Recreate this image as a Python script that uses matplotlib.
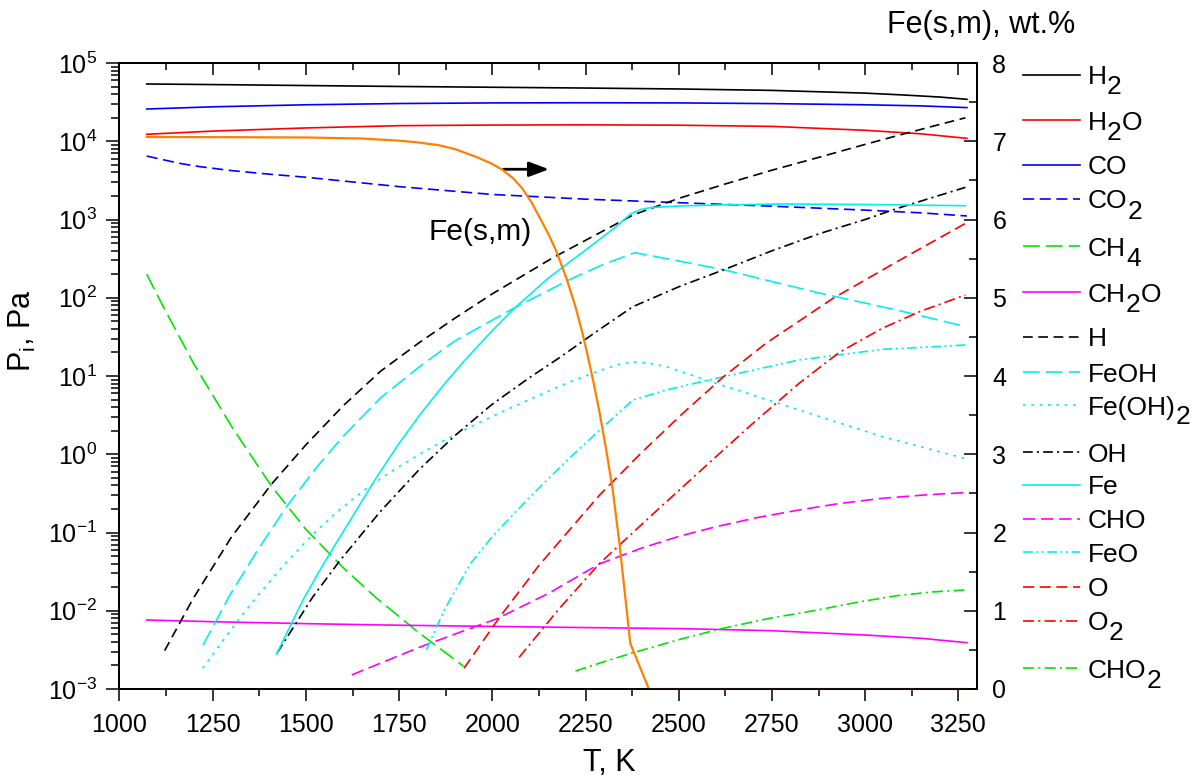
import re

import matplotlib
matplotlib.use("Agg")
import matplotlib.pyplot as plt
import numpy as np
from matplotlib.lines import Line2D
from matplotlib.ticker import LogLocator, MultipleLocator, NullFormatter

plt.rcParams.update({
    "font.family": ["Liberation Sans", "DejaVu Sans"],
    "mathtext.fontset": "custom",
    "mathtext.rm": "Liberation Sans",
    "mathtext.it": "Liberation Sans:italic",
    "mathtext.bf": "Liberation Sans:bold",
    "axes.unicode_minus": False,
    "lines.scale_dashes": False,
    "axes.linewidth": 1.3,
})

# --- partial pressures, log10(P / Pa) versus T (K) ---
T_H2 = [1073, 1300, 1500, 1750, 2000, 2250, 2500, 2750, 3000, 3100, 3200, 3273]
LG_H2 = [4.732, 4.722, 4.712, 4.700, 4.690, 4.680, 4.668, 4.650, 4.615, 4.592, 4.565, 4.536]

T_MAIN = [1073, 1250, 1500, 1750, 2000, 2250, 2500, 2750, 3000, 3150, 3273]
LG_H2O = [4.089, 4.130, 4.170, 4.199, 4.207, 4.210, 4.205, 4.190, 4.140, 4.095, 4.037]
LG_CO = [4.412, 4.440, 4.466, 4.482, 4.490, 4.492, 4.490, 4.481, 4.466, 4.452, 4.430]
LG_CH2O = [-2.118, -2.140, -2.165, -2.185, -2.200, -2.215, -2.228, -2.255, -2.310, -2.352, -2.408]

T_CO2 = [1073, 1130, 1170, 1216, 1300, 1400, 1500, 1750, 2000, 2250, 2500, 2750, 3000, 3150, 3273]
LG_CO2 = [3.811, 3.750, 3.710, 3.675, 3.625, 3.580, 3.540, 3.420, 3.320, 3.260, 3.215, 3.170,
          3.120, 3.085, 3.045]

T_CH4 = [1073, 1117, 1200, 1300, 1408, 1500, 1600, 1685, 1800, 1923]
LG_CH4 = [2.30, 1.89, 1.15, 0.36, -0.41, -0.96, -1.45, -1.82, -2.27, -2.71]

T_H = [1121, 1198, 1300, 1408, 1500, 1600, 1700, 1805, 1900, 2000, 2162, 2280, 2377, 2500,
       2622, 2750, 2880, 3000, 3085, 3180, 3269]
LG_H = [-2.51, -1.84, -1.06, -0.38, 0.12, 0.62, 1.06, 1.43, 1.74, 2.05, 2.51, 2.81, 3.057, 3.27,
        3.45, 3.63, 3.80, 3.96, 4.07, 4.19, 4.30]

T_FEOH = [1224, 1296, 1370, 1448, 1530, 1600, 1700, 1805, 1900, 2059, 2213, 2300, 2382, 2500,
          2623, 2880, 3085, 3259]
LG_FEOH = [-2.44, -1.80, -1.23, -0.67, -0.16, 0.23, 0.72, 1.12, 1.45, 1.87, 2.245, 2.43, 2.576,
           2.47, 2.355, 2.057, 1.843, 1.643]

T_FEOH2 = [1223, 1290, 1358, 1440, 1519, 1590, 1662, 1735, 1805, 1880, 1950, 2025, 2100, 2200,
           2288, 2340, 2377, 2420, 2466, 2600, 2823, 3046, 3266]
LG_FEOH2 = [-2.735, -2.30, -1.88, -1.42, -1.02, -0.71, -0.44, -0.20, 0.00, 0.20, 0.37, 0.54,
            0.70, 0.91, 1.07, 1.15, 1.18, 1.165, 1.12, 0.907, 0.565, 0.225, -0.052]

T_OH = [1423, 1519, 1591, 1700, 1805, 1900, 2000, 2100, 2182, 2280, 2377, 2500, 2622, 2750,
        2880, 3000, 3085, 3180, 3269]
LG_OH = [-2.536, -1.82, -1.36, -0.73, -0.19, 0.24, 0.64, 0.98, 1.24, 1.57, 1.886, 2.14, 2.36,
         2.60, 2.823, 3.00, 3.14, 3.28, 3.411]

T_FE = [1421, 1492, 1550, 1600, 1685, 1750, 1805, 1870, 1926, 2000, 2059, 2150, 2264, 2330,
        2372, 2400, 2423, 2500, 2600, 2777, 3000, 3269]
LG_FE = [-2.557, -1.863, -1.38, -0.99, -0.329, 0.14, 0.50, 0.89, 1.20, 1.58, 1.865, 2.25, 2.66,
         2.90, 3.075, 3.13, 3.151, 3.172, 3.185, 3.198, 3.192, 3.176]

T_CHO = [1623, 1700, 1808, 1910, 2013, 2150, 2288, 2400, 2500, 2600, 2710, 2823, 2930, 3046, 3160, 3270]
LG_CHO = [-2.82, -2.67, -2.46, -2.28, -2.10, -1.78, -1.40, -1.20, -1.05, -0.926, -0.81, -0.712,
          -0.63, -0.563, -0.52, -0.49]

T_FEO = [1823, 1870, 1941, 2000, 2100, 2200, 2288, 2377, 2466, 2600, 2823, 3046, 3270]
LG_FEO = [-2.502, -2.00, -1.40, -1.05, -0.55, -0.08, 0.31, 0.693, 0.82, 0.97, 1.205, 1.34, 1.396]

T_O = [1924, 2020, 2126, 2288, 2400, 2511, 2620, 2734, 2913, 3100, 3269]
LG_O = [-2.735, -2.08, -1.415, -0.52, 0.02, 0.523, 0.99, 1.418, 1.99, 2.50, 2.95]

T_O2 = [2072, 2180, 2288, 2450, 2600, 2700, 2823, 2930, 3046, 3150, 3269]
LG_O2 = [-2.595, -1.97, -1.394, -0.68, -0.031, 0.40, 0.907, 1.30, 1.61, 1.83, 2.035]

T_CHO2 = [2223, 2300, 2378, 2500, 2607, 2740, 2873, 2980, 3086, 3180, 3266]
LG_CHO2 = [-2.77, -2.65, -2.536, -2.37, -2.237, -2.10, -1.99, -1.89, -1.807, -1.76, -1.735]

# --- condensed iron, wt.% (right axis) ---
T_FESM = [1073, 1300, 1500, 1650, 1751, 1800, 1854, 1900, 1957, 2000, 2028, 2055, 2080, 2105,
          2131, 2152, 2172, 2198, 2223, 2240, 2254, 2270, 2287, 2305, 2323, 2341, 2370, 2420, 3273]
WT_FESM = [7.054, 7.052, 7.048, 7.035, 7.007, 6.985, 6.952, 6.90, 6.80, 6.71, 6.632, 6.53, 6.40,
           6.22, 5.99, 5.80, 5.59, 5.26, 4.885, 4.58, 4.30, 3.95, 3.55, 3.07, 2.54, 1.86, 0.584,
           0.0, 0.0]

X_TICKS = list(range(1000, 3251, 250))

BLACK, RED, BLUE = "#000000", "#FF0000", "#0000FF"
GREEN, MAGENTA, CYAN, ORANGE = "#00E600", "#FF00FF", "#00F0F0", "#FF8000"

SOLID = "-"
DASH = (0, (8, 4))
LONG_DASH = (0, (12, 4.5))
DOT = (0, (2, 4))
DASH_DOT = (0, (7, 3, 1.5, 3))
DASH_DOT_DOT = (0, (7, 2.5, 1.5, 2.5, 1.5, 2.5))

# legend label, x, log10 y, colour, line style, legend row (px from top)
SERIES = [
    ("H_2", T_H2, LG_H2, BLACK, SOLID, 75),
    ("H_2O", T_MAIN, LG_H2O, RED, SOLID, 120),
    ("CO", T_MAIN, LG_CO, BLUE, SOLID, 165),
    ("CO_2", T_CO2, LG_CO2, BLUE, DASH, 199),
    ("CH_4", T_CH4, LG_CH4, GREEN, LONG_DASH, 246),
    ("CH_2O", T_MAIN, LG_CH2O, MAGENTA, SOLID, 292),
    ("H", T_H, LG_H, BLACK, (0, (7, 4)), 337),
    ("FeOH", T_FEOH, LG_FEOH, CYAN, LONG_DASH, 372),
    ("Fe(OH)_2", T_FEOH2, LG_FEOH2, CYAN, DOT, 405),
    ("OH", T_OH, LG_OH, BLACK, DASH_DOT, 452),
    ("Fe", T_FE, LG_FE, CYAN, SOLID, 485),
    ("CHO", T_CHO, LG_CHO, MAGENTA, (0, (9, 4)), 519),
    ("FeO", T_FEO, LG_FEO, CYAN, DASH_DOT_DOT, 552),
    ("O", T_O, LG_O, RED, DASH, 587),
    ("O_2", T_O2, LG_O2, RED, (0, (8, 3, 1.5, 3)), 621),
    ("CHO_2", T_CHO2, LG_CHO2, GREEN, (0, (8, 3, 1.5, 3)), 668),
]

W, H = 1203, 778
FS = 18
FS_LEG = 19
FS_TITLE = 22
LW = 1.2
SUB_DROP = 10


def fx(px):
    return px / W


def fy(py):
    return 1 - py / H


fig = plt.figure(figsize=(W / 100, H / 100), dpi=100)
ax = fig.add_axes([fx(119.5), fy(689), fx(977) - fx(119.5), fy(63) - fy(689)])
ax2 = ax.twinx()

for label, tt, lg, color, ls, _ in SERIES:
    ax.plot(tt, 10 ** np.asarray(lg), color=color, ls=ls, lw=LW)

ax2.plot(T_FESM, WT_FESM, color=ORANGE, lw=1.6)

# left axis: log pressure, outward ticks
ax.set_yscale("log")
ax.set_ylim(1e-3, 1e5)
ax.yaxis.set_major_locator(LogLocator(base=10, numticks=20))
ax.yaxis.set_minor_locator(LogLocator(base=10, subs=np.arange(2, 10), numticks=20))
ax.yaxis.set_minor_formatter(NullFormatter())
ax.tick_params(axis="y", which="major", direction="out", length=9.4, width=1.1, labelsize=FS, pad=6.5)
ax.tick_params(axis="y", which="minor", direction="out", length=5.6, width=1.1)

# bottom axis: temperature
ax.set_xlim(1000, 3300)
ax.set_xticks(X_TICKS)
ax.xaxis.set_minor_locator(MultipleLocator(125))
ax.tick_params(axis="x", which="major", direction="out", length=8.5, width=1.1, labelsize=FS, pad=9)
ax.tick_params(axis="x", which="minor", direction="out", length=5, width=1.1)

# top axis: inward ticks only
top = ax.secondary_xaxis("top")
top.set_xticks(X_TICKS)
top.xaxis.set_minor_locator(MultipleLocator(125))
top.tick_params(axis="x", which="major", direction="in", length=8.5, width=1.1, labeltop=False)
top.tick_params(axis="x", which="minor", direction="in", length=5, width=1.1)
top.spines["top"].set_linewidth(1.3)

# right axis: Fe(s,m) content
ax2.set_ylim(0, 8)
ax2.yaxis.set_major_locator(MultipleLocator(1))
ax2.yaxis.set_minor_locator(MultipleLocator(0.5))
ax2.tick_params(axis="y", which="major", direction="in", length=9.4, width=1.1, labelsize=FS, pad=11)
ax2.tick_params(axis="y", which="minor", direction="in", length=5.6, width=1.1)

# annotation for the condensed iron curve
y_arrow = 10 ** 3.642
ax.annotate("", xy=(2152, y_arrow), xytext=(2030, y_arrow),
            arrowprops=dict(arrowstyle="-|>,head_length=0.8,head_width=0.3", color="black",
                            lw=2.0, mutation_scale=15, shrinkA=0, shrinkB=0))
ax.text(1967, 10 ** 2.738, "Fe(s,m)", fontsize=21.5, ha="center", va="baseline")

fig.text(fx(22), fy(331), r"P$_\mathregular{i}$, Pa", rotation=90, ha="center", va="center",
         fontsize=FS_TITLE)
fig.text(fx(609), fy(771), "T, K", ha="center", va="baseline", fontsize=FS_TITLE)
fig.text(fx(1075), fy(33), "Fe(s,m), wt.%", ha="right", va="baseline", fontsize=FS_TITLE)

renderer = fig.canvas.get_renderer()


def put_label(x, y, label, fs):
    # chemical formula with full-size, lowered digits; pieces placed side by side
    parts = re.split(r"_(\d)", label)
    for i, s in enumerate(parts):
        if not s:
            continue
        drop = SUB_DROP if i % 2 == 1 else 0
        t = fig.text(fx(x), fy(y + drop), s, fontsize=fs, ha="left", va="baseline")
        x = t.get_window_extent(renderer).x1


# hand-placed legend on the right
for label, _, _, color, ls, row in SERIES:
    fig.add_artist(Line2D([fx(1023), fx(1080)], [fy(row), fy(row)], color=color, ls=ls, lw=LW,
                          transform=fig.transFigure))
    put_label(1088, row + 9.5, label, FS_LEG)

fig.savefig("out.png", dpi=100)
